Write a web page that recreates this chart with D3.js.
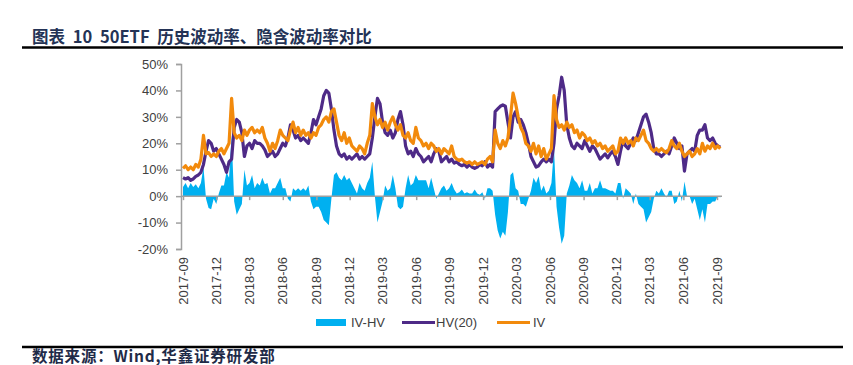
<!DOCTYPE html>
<html><head><meta charset="utf-8">
<script src="https://cdn.jsdelivr.net/npm/d3@7"></script>
<style>
html,body{margin:0;padding:0;background:#fff;}
svg{display:block;}
</style></head>
<body><svg id="c" width="853" height="365"></svg>
<script>
// ---- data (weekly readings, %) ----
const startDate = "2017-09-01";
const hv = [7,6.5,7,6,6.5,7.5,8,9,12,17,21,20,17,18,16,14,12,9,13,14,
26,29,28,24,15,19,20,18,21,20,20,19,17.5,15,16,17,15,16,18,20,
19,22,27,25,22,23,21,22,21,20,24,29,27,30,33,38,40,39,33,25,
19,16,15,16,14,15,14,15,16,14,15,14,15,16,22,30,37,35,28,24,
23,25,22,24,29,32,27,19,16,17,15,18,16,15,13,14,15,13,16,18,
17,13,14,15,13,14,12.5,13,12,11.5,12,11,12,11,10.5,11,12,11.5,13,11,
12,11,32,33,34,34.5,34,28,22,30,32,28,29,27,24,20,15,13,11,11.5,
13,14,13,14,13,20,33,38,45,40,27,22,19,18,20,19,18,21,19,17,
19,18,16,14,15,16,14.5,16,17,15,12,17,21,19,18,20,22,21,24,27,
30,31,28,24,18,16,16,15,16,17,16,19,22,20,18,19,9.5,16,17,18,
17,23,25,25,27,22,21,22,20,19,18.5];
const iv = [10.5,11.5,10,11,10,12,11,14,23,16,16.5,15,16,15,17,18,16,18,20,37,
24,22,23,21,25,23,25,26,24,25,24,26,22,20,17,20,18,21,25,23,
22,21,25,28,24,26,23,25,23,24,22,24,23,26,27,29,30,28,32,33,
28,23,21,24,20,22,19,18,17,19,18,16,20,23,35,30,27,29,26,28,
25,28,30,27,25,27,23,22,24,21,20,26,22,21,19,20,18,20,19,17,
18,16,18,17,16,19,15,14,13.5,14,13,12.5,13,12,13,12,12.5,13,12,14,
15,13,25,20,18,21,19,22,30,39,35,30,26,24,20,19,17,20,16,19,
15,18,14,16,18,38,29,26,27,25,28,26,27,24,25,22,24,23,21,22,
20,21,19,20,18,19,17,18,19,16,17,22,20,22,20,21,19,22,21,23,
25,21,20,18,17,18,17,18,17,16.5,18,21,19,18,20,17,15,16,17,15,
16,18,16,20,17,19,18,20,18,19,18];
const tickLabels = ["2017-09","2017-12","2018-03","2018-06","2018-09","2018-12","2019-03","2019-06","2019-09","2019-12","2020-03","2020-06","2020-09","2020-12","2021-03","2021-06","2021-09"];
const yTicks = [-20,-10,0,10,20,30,40,50];
const seriesNames = ["IV-HV","HV(20)","IV"];
const colors = {ivhv:"#00b0f0", hv:"#4e2a87", iv:"#f28a0c"};

const parse = d3.timeParse("%Y-%m-%d");
const parseM = d3.timeParse("%Y-%m");
const t0 = parse(startDate);
const rows = hv.map((h,i)=>({date:d3.timeDay.offset(t0, 7*i), hv:h, iv:iv[i], diff:iv[i]-h}));

const svg = d3.select("#c");
const x = d3.scaleTime().domain([parseM(tickLabels[0]), parseM(tickLabels[tickLabels.length-1])]).range([183,717]);
const y = d3.scaleLinear().domain([-20,50]).range([249,64]);

// title
svg.append("text").attr("x",32).attr("y",43)
  .attr("font-family","'Noto Sans CJK SC', 'Noto Sans', sans-serif")
  .attr("font-size",16.5).attr("font-weight","bold").attr("fill","#243356").attr("word-spacing",4)
  .text("图表 10 50ETF 历史波动率、隐含波动率对比");
svg.append("line").attr("x1",22).attr("x2",843).attr("y1",47.5).attr("y2",47.5)
  .attr("stroke","#000").attr("stroke-width",2.5);
svg.append("line").attr("x1",22).attr("x2",843).attr("y1",347).attr("y2",347)
  .attr("stroke","#000").attr("stroke-width",2.5);
svg.append("text").attr("x",32).attr("y",362)
  .attr("font-family","'Noto Sans CJK SC', sans-serif")
  .attr("font-size",15.5).attr("font-weight","bold").attr("fill","#1f2b48").attr("letter-spacing",0.8)
  .text("数据来源：Wind,华鑫证券研发部");

// area
const area = d3.area().x(d=>x(d.date)).y0(y(0)).y1(d=>y(d.diff));
svg.append("path").datum(rows).attr("d",area).attr("fill",colors.ivhv);

// y axis
const yAxis = svg.append("g").attr("transform","translate(181,0)")
  .call(d3.axisLeft(y).tickValues(yTicks).tickSize(5).tickPadding(8).tickFormat(d=>d+"%"));
yAxis.select(".domain").attr("stroke","#a0a0a0").attr("stroke-width",1.5);
yAxis.selectAll(".tick line").attr("stroke","#a0a0a0").attr("stroke-width",1.5);
yAxis.selectAll("text").attr("font-family","'Liberation Sans', Arial, sans-serif").attr("font-size",13).attr("fill","#404040");

// x axis on zero line
const xAxis = svg.append("g").attr("transform",`translate(0,${y(0)})`)
  .call(d3.axisBottom(x).tickValues(tickLabels.map(parseM)).tickSize(4).tickFormat(""));
xAxis.select(".domain").attr("d",`M181,0H722`).attr("stroke","#a0a0a0").attr("stroke-width",1.5);
xAxis.selectAll(".tick line").attr("stroke","#a0a0a0").attr("stroke-width",1.5);

// x labels
svg.append("g").selectAll("text").data(tickLabels).join("text")
  .attr("transform",d=>`translate(${x(parseM(d))},257) rotate(-90)`)
  .attr("text-anchor","end").attr("dy","0.35em")
  .attr("font-family","'Liberation Sans', Arial, sans-serif").attr("font-size",13).attr("fill","#404040")
  .text(d=>d);

// lines
const lineHV = d3.line().x(d=>x(d.date)).y(d=>y(d.hv));
const lineIV = d3.line().x(d=>x(d.date)).y(d=>y(d.iv));
svg.append("path").datum(rows).attr("d",lineHV).attr("fill","none").attr("stroke",colors.hv).attr("stroke-width",3.2).attr("stroke-linejoin","round");
svg.append("path").datum(rows).attr("d",lineIV).attr("fill","none").attr("stroke",colors.iv).attr("stroke-width",3.2).attr("stroke-linejoin","round");

// legend
const lg = svg.append("g").attr("font-family","'Liberation Sans', Arial, sans-serif").attr("font-size",13).attr("fill","#404040");
lg.append("rect").attr("x",316).attr("y",319).attr("width",30).attr("height",7).attr("fill",colors.ivhv);
lg.append("text").attr("x",351).attr("y",327).text(seriesNames[0]);
lg.append("line").attr("x1",402).attr("x2",435).attr("y1",322.5).attr("y2",322.5).attr("stroke",colors.hv).attr("stroke-width",3);
lg.append("text").attr("x",436).attr("y",327).text(seriesNames[1]);
lg.append("line").attr("x1",497).attr("x2",530).attr("y1",322.5).attr("y2",322.5).attr("stroke",colors.iv).attr("stroke-width",3);
lg.append("text").attr("x",533).attr("y",327).text(seriesNames[2]);
</script></body></html>
